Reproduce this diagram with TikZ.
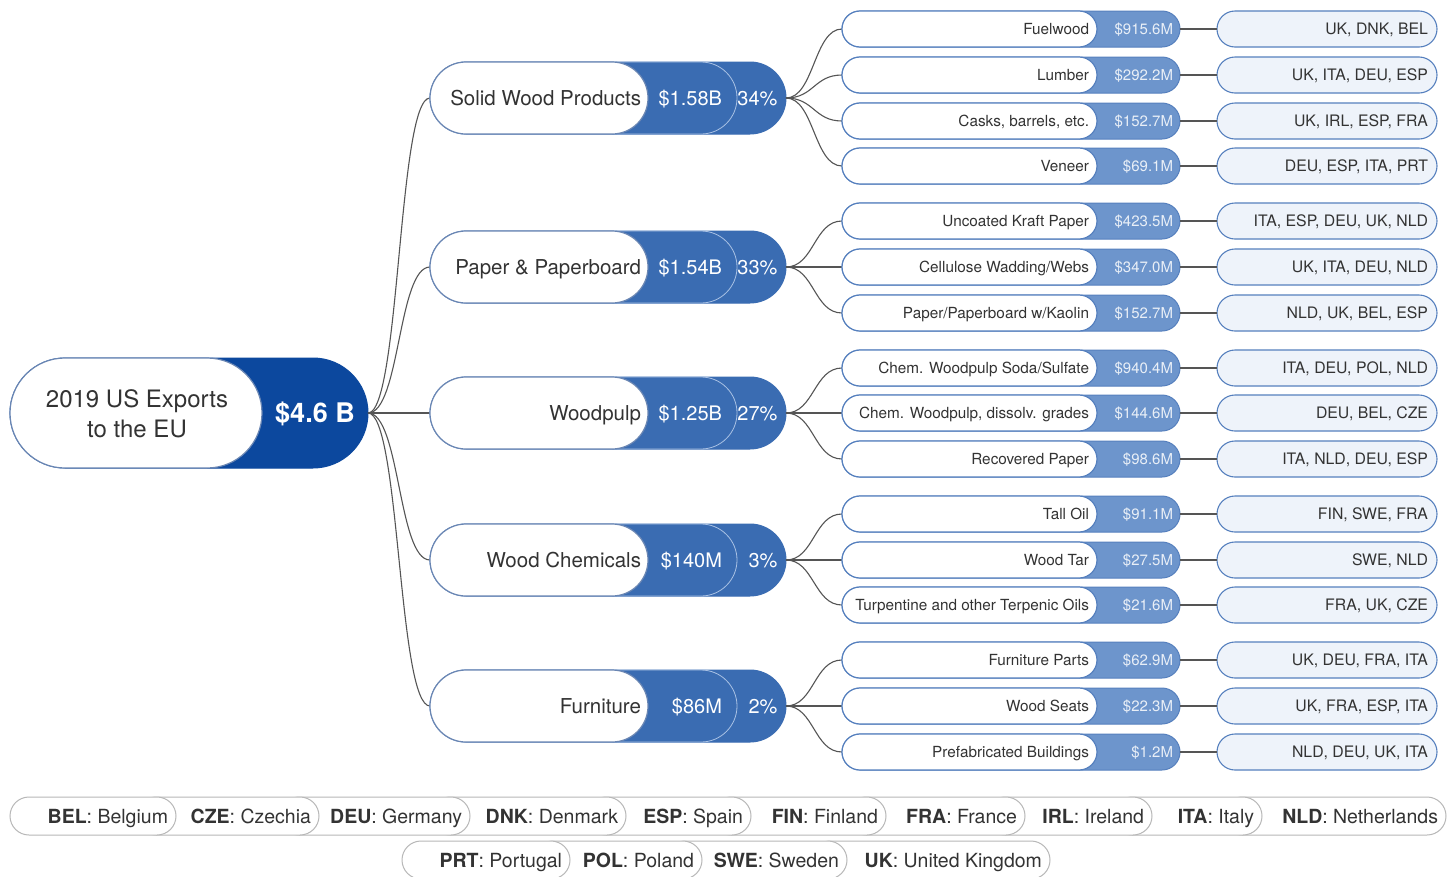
\documentclass[tikz,border=0pt]{standalone}
\usepackage{fontspec}
\setmainfont{TeX Gyre Heros}
\definecolor{rootblue}{HTML}{0C489E}
\definecolor{midblue}{HTML}{3A6CB2}
\definecolor{leafblue}{HTML}{6D95CC}
\definecolor{pillline}{HTML}{6A86B3}
\definecolor{leafline}{HTML}{5680BE}
\definecolor{cfill}{HTML}{EEF3FA}
\definecolor{txt}{HTML}{333333}
\definecolor{connc}{HTML}{555555}
\definecolor{sepline}{HTML}{A9C1E4}
\newcommand\midnode[5]{%
  \node[midouter] (#1) at (608,#2) {};
  \node[midval] (#1v) at (583.5,#2) {};
  \node[midwhite] (#1w) at (539,#2) {};
  \node[midtext, anchor=east] (#1t) at (641,#2) {#3};
  \node[midvaltext, anchor=east] (#1n) at (722,#2) {#4};
  \node[midvaltext, anchor=east] (#1p) at (777.5,#2) {#5};
}
\newcommand\leafnode[6]{%
  \draw[conn] (#6.east) .. controls +(28,0) and +(-28,0) .. (1011-169,#2);
  \node[leafouter] (#1) at (1011,#2) {};
  \node[leafwhite] (#1w) at (969.5,#2) {};
  \node[leaftext, anchor=east] (#1t) at (1089,#2) {#3};
  \node[leafval, anchor=east] (#1n) at (1173,#2) {#4};
  \node[cbox] (#1c) at (1327,#2) {};
  \node[ctext, anchor=east] (#1ct) at (1428,#2) {#5};
  \draw[conn] (#1.east) -- (#1c.west);
}
\newcommand\legpill[6]{%
  \pgfmathsetmacro\lgw{#3-#2}\pgfmathsetmacro\lgc{(#2+#3)/2}%
  \node[lgpill, minimum width=\lgw pt] (#1) at (\lgc,#4) {};
  \node[lgtext, anchor=east] (#1t) at ({#3-8},#4) {\textbf{#5}: #6};
}
\begin{document}
\begin{tikzpicture}[x=1pt,y=-1pt,
  every node/.style={inner sep=0pt, outer sep=0pt},
  conn/.style={draw=connc, line width=1.1pt},
  rootouter/.style={fill=rootblue, draw=rootblue, line width=1pt, minimum width=358pt, minimum height=110pt, rounded corners=55pt},
  rootwhite/.style={fill=white, draw=pillline, line width=1.2pt, minimum width=252pt, minimum height=110pt, rounded corners=55pt},
  midouter/.style={fill=midblue, draw=midblue, line width=1pt, minimum width=356pt, minimum height=72pt, rounded corners=36pt},
  midval/.style={fill=midblue, draw=sepline, line width=0.8pt, minimum width=307pt, minimum height=72pt, rounded corners=36pt},
  midwhite/.style={fill=white, draw=pillline, line width=1.2pt, minimum width=218pt, minimum height=72pt, rounded corners=36pt},
  midtext/.style={text=txt, font=\fontsize{20.5}{24}\selectfont, text height=14.7pt, text depth=0pt},
  midvaltext/.style={text=white, font=\fontsize{20}{24}\selectfont, text height=14.4pt, text depth=0pt},
  leafouter/.style={fill=leafblue, draw=leafline, line width=1pt, minimum width=338pt, minimum height=36pt, rounded corners=18pt},
  leafwhite/.style={fill=white, draw=leafline, line width=1.2pt, minimum width=255pt, minimum height=36pt, rounded corners=18pt},
  leaftext/.style={text=txt, font=\fontsize{15.3}{18}\selectfont, text height=11pt, text depth=0pt},
  leafval/.style={text=white!85!leafblue, font=\fontsize{15}{18}\selectfont, text height=10.8pt, text depth=0pt},
  cbox/.style={fill=cfill, draw=leafline, line width=1.1pt, minimum width=220pt, minimum height=36pt, rounded corners=18pt},
  ctext/.style={text=txt, font=\fontsize{15.8}{18}\selectfont, text height=11.3pt, text depth=0pt},
  lgpill/.style={fill=white, draw=black!28, line width=1pt, minimum height=38pt, rounded corners=19pt},
  lgtext/.style={text=txt, font=\fontsize{19.5}{22}\selectfont, text height=14pt, text depth=0pt},
]
\useasboundingbox (0,0) rectangle (1453,876);
\fill[white] (0,0) rectangle (1453,876);

% root
\node[rootouter] (root) at (189,413) {};
\node[rootwhite] (rootw) at (136,413) {};
\node[text=txt, align=center, font=\fontsize{24}{30}\selectfont] (roott) at (137,414) {2019 US Exports\\to the EU};
\node[text=white, font=\bfseries\fontsize{27}{30}\selectfont, text height=19.4pt, text depth=0pt] (rootv) at (315,413) {\$4.6 B};

% root connectors
\foreach \yy in {98,267,413,560,706}{
  \draw[conn] (root.east) .. controls +(32,0) and +(-32,0) .. (430,\yy);
}

\midnode{solid}{98}{Solid Wood Products}{\$1.58B}{34\%}
\midnode{paper}{267}{Paper \& Paperboard}{\$1.54B}{33\%}
\midnode{pulp}{413}{Woodpulp}{\$1.25B}{27\%}
\midnode{chem}{560}{Wood Chemicals}{\$140M}{3\%}
\midnode{furn}{706}{Furniture}{\$86M}{2\%}

\leafnode{l1}{29}{Fuelwood}{\$915.6M}{UK, DNK, BEL}{solid}
\leafnode{l2}{75}{Lumber}{\$292.2M}{UK, ITA, DEU, ESP}{solid}
\leafnode{l3}{121}{Casks, barrels, etc.}{\$152.7M}{UK, IRL, ESP, FRA}{solid}
\leafnode{l4}{166}{Veneer}{\$69.1M}{DEU, ESP, ITA, PRT}{solid}
\leafnode{l5}{221}{Uncoated Kraft Paper}{\$423.5M}{ITA, ESP, DEU, UK, NLD}{paper}
\leafnode{l6}{267}{Cellulose Wadding/Webs}{\$347.0M}{UK, ITA, DEU, NLD}{paper}
\leafnode{l7}{313}{Paper/Paperboard w/Kaolin}{\$152.7M}{NLD, UK, BEL, ESP}{paper}
\leafnode{l8}{368}{Chem. Woodpulp Soda/Sulfate}{\$940.4M}{ITA, DEU, POL, NLD}{pulp}
\leafnode{l9}{413}{Chem. Woodpulp, dissolv. grades}{\$144.6M}{DEU, BEL, CZE}{pulp}
\leafnode{l10}{459}{Recovered Paper}{\$98.6M}{ITA, NLD, DEU, ESP}{pulp}
\leafnode{l11}{514}{Tall Oil}{\$91.1M}{FIN, SWE, FRA}{chem}
\leafnode{l12}{560}{Wood Tar}{\$27.5M}{SWE, NLD}{chem}
\leafnode{l13}{605}{Turpentine and other Terpenic Oils}{\$21.6M}{FRA, UK, CZE}{chem}
\leafnode{l14}{660}{Furniture Parts}{\$62.9M}{UK, DEU, FRA, ITA}{furn}
\leafnode{l15}{706}{Wood Seats}{\$22.3M}{UK, FRA, ESP, ITA}{furn}
\leafnode{l16}{752}{Prefabricated Buildings}{\$1.2M}{NLD, DEU, UK, ITA}{furn}

% legend row 1 (drawn right to left)
\legpill{g10}{1223}{1446}{816}{NLD}{Netherlands}
\legpill{g9}{1113}{1262}{816}{ITA}{Italy}
\legpill{g8}{986}{1152}{816}{IRL}{Ireland}
\legpill{g7}{847}{1025}{816}{FRA}{France}
\legpill{g6}{712}{886}{816}{FIN}{Finland}
\legpill{g5}{587}{751}{816}{ESP}{Spain}
\legpill{g4}{431}{626}{816}{DNK}{Denmark}
\legpill{g3}{280}{470}{816}{DEU}{Germany}
\legpill{g2}{137}{319}{816}{CZE}{Czechia}
\legpill{g1}{10}{176}{816}{BEL}{Belgium}
% legend row 2
\legpill{h4}{811}{1050}{860}{UK}{United Kingdom}
\legpill{h3}{666}{847}{860}{SWE}{Sweden}
\legpill{h2}{534}{702}{860}{POL}{Poland}
\legpill{h1}{402}{570}{860}{PRT}{Portugal}
\end{tikzpicture}
\end{document}
